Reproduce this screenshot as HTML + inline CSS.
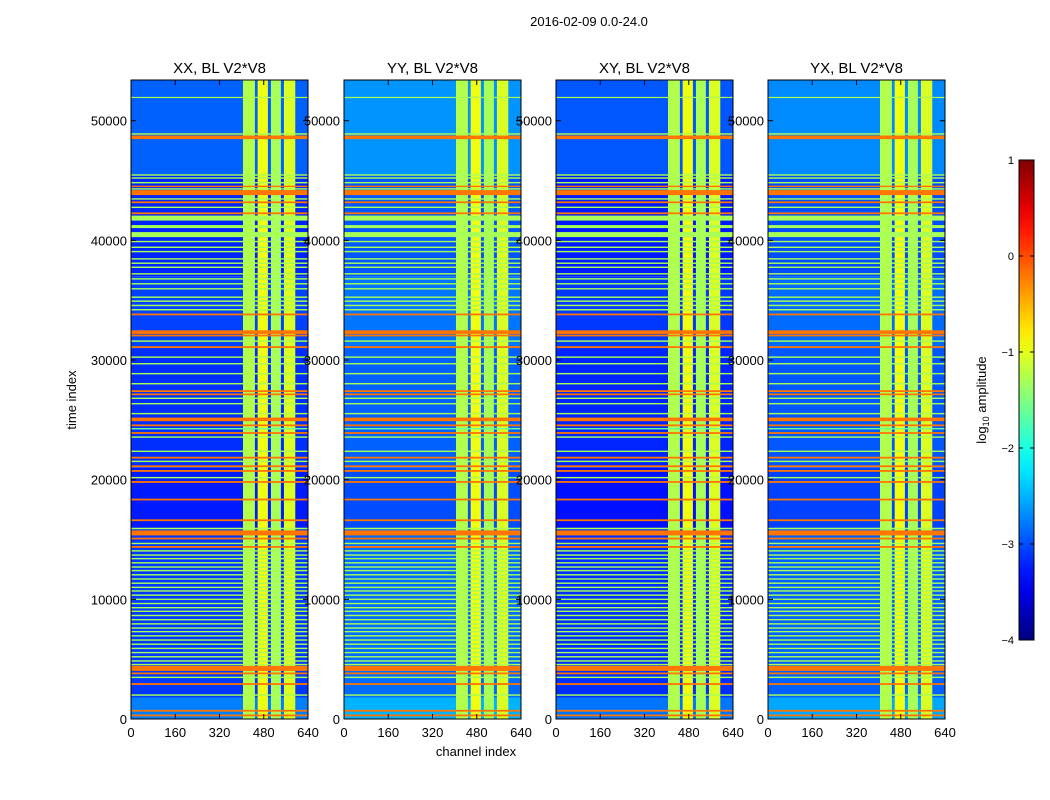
<!DOCTYPE html>
<html><head><meta charset="utf-8">
<style>
html,body{margin:0;padding:0;background:#fff;}
svg{display:block;font-family:"Liberation Sans",sans-serif;}
</style></head>
<body>
<svg id="fig" width="1050" height="800" viewBox="0 0 1050 800" xmlns="http://www.w3.org/2000/svg">
<rect width="1050" height="800" fill="#fff"/>
<text x="589" y="26" font-size="13" text-anchor="middle">2016-02-09 0.0-24.0</text>
<text x="76" y="400" font-size="13" text-anchor="middle" transform="rotate(-90 76 400)">time index</text>
<text x="476" y="756" font-size="13" text-anchor="middle">channel index</text>
<g id="panels"></g>
<g id="cbar"></g>
</svg>
<script>
// ---- data ----
const panelTitles = ["XX, BL V2*V8","YY, BL V2*V8","XY, BL V2*V8","YX, BL V2*V8"];
const panelBg = [-3.05, -2.8, -3.1, -2.85];
const xTicks = [0,160,320,480,640];
const yTicks = [0,10000,20000,30000,40000,50000];
const bandStart = [405, 458, 506, 553];
const bandEnd   = [448, 495, 542, 594];
const bandV     = [-1.25, -0.95, -1.3, -1.05];
const bgSegStart = [0, 1800, 16000, 21000, 31000, 37000, 45500];
const bgSegEnd   = [1800, 16000, 21000, 31000, 37000, 45500, 53400];
const bgSegV     = [-2.75, -3.1, -3.25, -3.15, -3.05, -3.2, -2.9];
const rowsT = [51940,48890,48610,45460,45210,44820,44510,44300,43990,43460,43180,42760,42260,41860,41150,40480,39900,39420,39060,38450,38090,37750,37200,36780,36370,35950,35250,34920,34560,34200,33810,32330,32050,31580,31080,30240,29690,28860,28020,27400,27130,26800,26350,25520,25040,24540,24260,23900,23560,22370,21840,21530,21120,20730,20170,19810,18340,16610,15920,15550,15080,14670,14380,14050,13700,13400,13050,12700,12400,12050,11700,11350,11000,10700,10350,10000,9650,9300,9000,8650,8300,7950,7600,7300,6950,6600,6250,5900,5550,5200,4850,4550,4230,3810,3480,2920,2000,690,300];
const rowsV = [-1.3,-1.3,-0.2,-1.3,-1.3,-1.3,-0.2,-1.3,-0.2,-1.3,-0.2,-1.3,-0.2,-1.3,-1.3,-1.3,-1.3,-1.3,-1.3,-1.3,-1.3,-1.3,-1.3,-1.3,-1.3,-1.3,-1.3,-1.3,-1.3,-1.3,-0.2,-0.2,-0.2,-1.3,-0.2,-1.3,-1.3,-1.3,-1.3,-0.2,-0.2,-1.3,-1.3,-1.3,-0.2,-0.2,-1.6,-0.2,-1.3,-1.3,-0.2,-1.3,-0.2,-0.2,-1.3,-0.2,-0.2,-0.2,-1.3,-0.2,-0.2,-1.3,-0.2,-1.3,-1.3,-1.3,-1.3,-1.3,-1.3,-1.3,-1.3,-1.3,-1.3,-1.3,-1.3,-1.3,-1.3,-1.3,-1.3,-1.3,-1.3,-1.3,-1.3,-1.3,-1.3,-1.3,-1.3,-1.3,-1.3,-1.3,-1.3,-1.3,-0.2,-0.2,-1.3,-0.2,-1.3,-0.2,-0.2];
const rowsW = [100,120,300,120,120,120,120,120,420,120,150,120,150,420,250,420,120,120,120,120,120,120,120,120,120,120,120,120,120,120,150,300,150,120,150,120,120,120,120,150,150,120,120,120,300,150,120,150,120,120,150,120,150,150,120,150,150,150,120,420,150,120,150,120,120,120,120,120,120,120,120,120,120,120,120,120,120,120,120,120,120,120,120,120,120,120,120,120,120,120,120,120,420,150,120,150,120,150,150];
const cbTicks = [1,0,-1,-2,-3,-4];

// ---- helpers ----
function jet(v){
  let x=(v+4)/5; x=Math.max(0,Math.min(1,x));
  const c=t=>Math.round(255*Math.max(0,Math.min(1,1.5-Math.abs(t))));
  return `rgb(${c(4*x-3)},${c(4*x-2)},${c(4*x-1)})`;
}
const NS="http://www.w3.org/2000/svg";
function mk(tag,attrs,parent){const e=document.createElementNS(NS,tag);for(const k in attrs)e.setAttribute(k,attrs[k]);parent.appendChild(e);return e;}
const panelX=[131,344,556,768], pw=177, plotTop=80, plotBot=719, tMax=53400;
const panels=document.getElementById('panels');
panelX.forEach((px,pi)=>{
  const sx=c=>px+c/640*pw;
  const sy=t=>plotBot-t/tMax*(plotBot-plotTop);
  const g=mk('g',{},panels);
  
  
  bgSegStart.forEach((s,i)=>{
    const r=mk('rect',{x:px,y:sy(bgSegEnd[i]),width:pw,height:sy(s)-sy(bgSegEnd[i]),fill:jet(bgSegV[i]+(panelBg[pi]+3.05))},g);
    
    
  });
  bandStart.forEach((s,i)=>{
    const r=mk('rect',{x:sx(s),y:plotTop,width:sx(bandEnd[i])-sx(s),height:plotBot-plotTop,fill:jet(bandV[i])},g);
    
    
  });
  rowsT.forEach((t,i)=>{
    const w=rowsW[i]||120, v=(rowsV[i]===undefined)?-1.3:rowsV[i];
    const h=Math.max(1.2,w/tMax*(plotBot-plotTop));
    const r=mk('rect',{x:px,y:sy(t)-h/2,width:pw,height:h,fill:jet(v)},g);
    
    
  });
  mk('rect',{x:px,y:plotTop,width:pw,height:plotBot-plotTop,fill:'none',stroke:'#000','stroke-width':1},g);
  const tt=mk('text',{x:px+pw/2,y:73,'font-size':15,'text-anchor':'middle'},g);
  tt.textContent=panelTitles[pi];
  
  
  xTicks.forEach(c=>{
    const x=sx(c);
    mk('line',{x1:x,x2:x,y1:plotBot,y2:plotBot-5,stroke:'#000'},g);
    mk('line',{x1:x,x2:x,y1:plotTop,y2:plotTop+5,stroke:'#000'},g);
    const l=mk('text',{x:x,y:plotBot+18,'font-size':13,'text-anchor':'middle'},g);
    l.textContent=c;
    
    
  });
  yTicks.forEach(t=>{
    const y=sy(t);
    mk('line',{x1:px,x2:px+5,y1:y,y2:y,stroke:'#000'},g);
    mk('line',{x1:px+pw,x2:px+pw-5,y1:y,y2:y,stroke:'#000'},g);
    const l=mk('text',{x:px-4,y:y+5,'font-size':13,'text-anchor':'end'},g);
    l.textContent=t;
    
    
  });
});
// colorbar
const cb=document.getElementById('cbar');
const cbx=1019,cbw=15,cbTop=160,cbBot=640;
const defs=mk('defs',{},cb);
const grad=mk('linearGradient',{id:'jetg',x1:0,y1:1,x2:0,y2:0},defs);
for(let i=0;i<=20;i++){mk('stop',{offset:i/20,'stop-color':jet(-4+5*i/20)},grad);}
mk('rect',{x:cbx,y:cbTop,width:cbw,height:cbBot-cbTop,fill:'url(#jetg)',stroke:'#000'},cb);
cbTicks.forEach(v=>{
  const y=cbBot-(v+4)/5*(cbBot-cbTop);
  mk('line',{x1:cbx,x2:cbx+4,y1:y,y2:y,stroke:'#000'},cb);
  mk('line',{x1:cbx+cbw,x2:cbx+cbw-4,y1:y,y2:y,stroke:'#000'},cb);
  const l=mk('text',{x:cbx-5,y:y+4,'font-size':11,'text-anchor':'end'},cb);
  l.textContent=v<0?'\u2212'+(-v):v;
  
  
});
const cl=mk('text',{x:986,y:400,'font-size':13,'text-anchor':'middle',transform:'rotate(-90 986 400)'},cb);
cl.innerHTML='log<tspan font-size="9" dy="3">10</tspan><tspan dy="-3"> amplitude</tspan>';


</script>
</body></html>
